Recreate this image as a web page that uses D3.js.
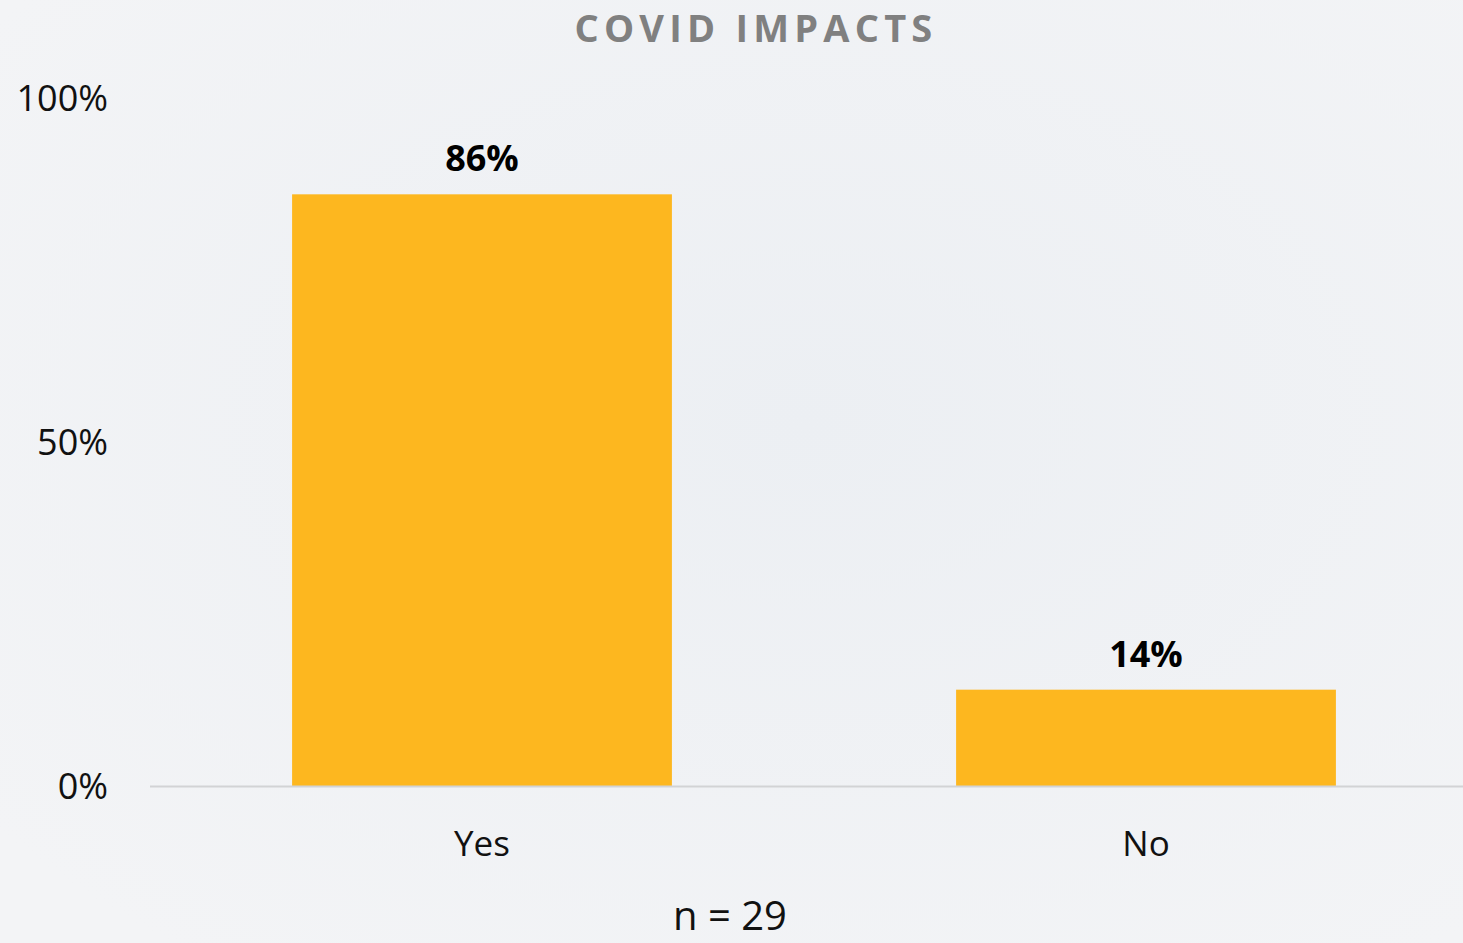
<!DOCTYPE html>
<html><head><meta charset="utf-8">
<script src="https://cdn.jsdelivr.net/npm/d3@7"></script>
<style>
html,body{margin:0;padding:0;background:#f0f2f5;}
svg{display:block;font-family:"Open Sans",sans-serif;}
</style></head>
<body>
<svg id="chart" width="1463" height="943"></svg>
<script>
const categories = ["Yes", "No"];
const values = [0.86, 0.14];
const valueLabels = ["86%", "14%"];
const tickValues = [0, 0.5, 1];
const tickLabels = ["0%", "50%", "100%"];
const titleText = "COVID IMPACTS";
const noteText = "n = 29";

const svg = d3.select("#chart");
const W = 1463, H = 943;

// background
const defs = svg.append("defs");
const g1 = defs.append("radialGradient").attr("id","bg1").attr("cx","0.55").attr("cy","0.45").attr("r","0.7");
g1.append("stop").attr("offset","0").attr("stop-color","#eceff3");
g1.append("stop").attr("offset","1").attr("stop-color","#f3f4f6");
svg.append("rect").attr("width",W).attr("height",H).attr("fill","url(#bg1)");

const x = d3.scaleBand().domain(categories).range([150, 1478]).paddingInner(0.428).paddingOuter(0.214);
const y = d3.scaleLinear().domain([0, 1]).range([786, 98]);

// title
svg.append("text").attr("x", 756).attr("y", 42).attr("text-anchor","middle")
  .attr("font-size", 38).attr("font-weight", 700).attr("fill","#808080")
  .attr("letter-spacing", 5.2).text(titleText);

// y axis labels
const yAxis = d3.axisLeft(y).tickValues(tickValues).tickFormat((d,i)=>tickLabels[i]).tickSize(0).tickPadding(0);
const ya = svg.append("g").attr("transform","translate(108,0)").call(yAxis);
ya.select(".domain").remove();
ya.selectAll("text").attr("font-size", 36).attr("fill","#111").attr("font-family","'Open Sans',sans-serif").attr("dy","0.36em");

// bars
svg.selectAll("rect.bar").data(values).join("rect").attr("class","bar")
  .attr("x",(d,i)=>x(categories[i])).attr("width", x.bandwidth())
  .attr("y", d=>y(d)).attr("height", d=>y(0)-y(d)).attr("fill","#FDB71F");

// baseline
svg.append("line").attr("x1",150).attr("x2",1463).attr("y1",y(0)+0.5).attr("y2",y(0)+0.5)
  .attr("stroke","#d2d3d5").attr("stroke-width",2);

// value labels
svg.selectAll("text.val").data(values).join("text").attr("class","val")
  .attr("x",(d,i)=>x(categories[i])+x.bandwidth()/2).attr("y", d=>y(d)-23)
  .attr("text-anchor","middle").attr("font-size",36).attr("font-weight",700).attr("fill","#000")
  .text((d,i)=>valueLabels[i]);

// x axis labels
const xAxis = d3.axisBottom(x).tickSize(0).tickPadding(0);
const xa = svg.append("g").attr("transform","translate(0,856)").call(xAxis);
xa.select(".domain").remove();
xa.selectAll("text").attr("font-size",35).attr("fill","#111").attr("font-family","'Open Sans',sans-serif").attr("dy",0);

// note
svg.append("text").attr("x", 730).attr("y", 930).attr("text-anchor","middle")
  .attr("font-size", 40).attr("fill","#111").text(noteText);
</script>
</body></html>
